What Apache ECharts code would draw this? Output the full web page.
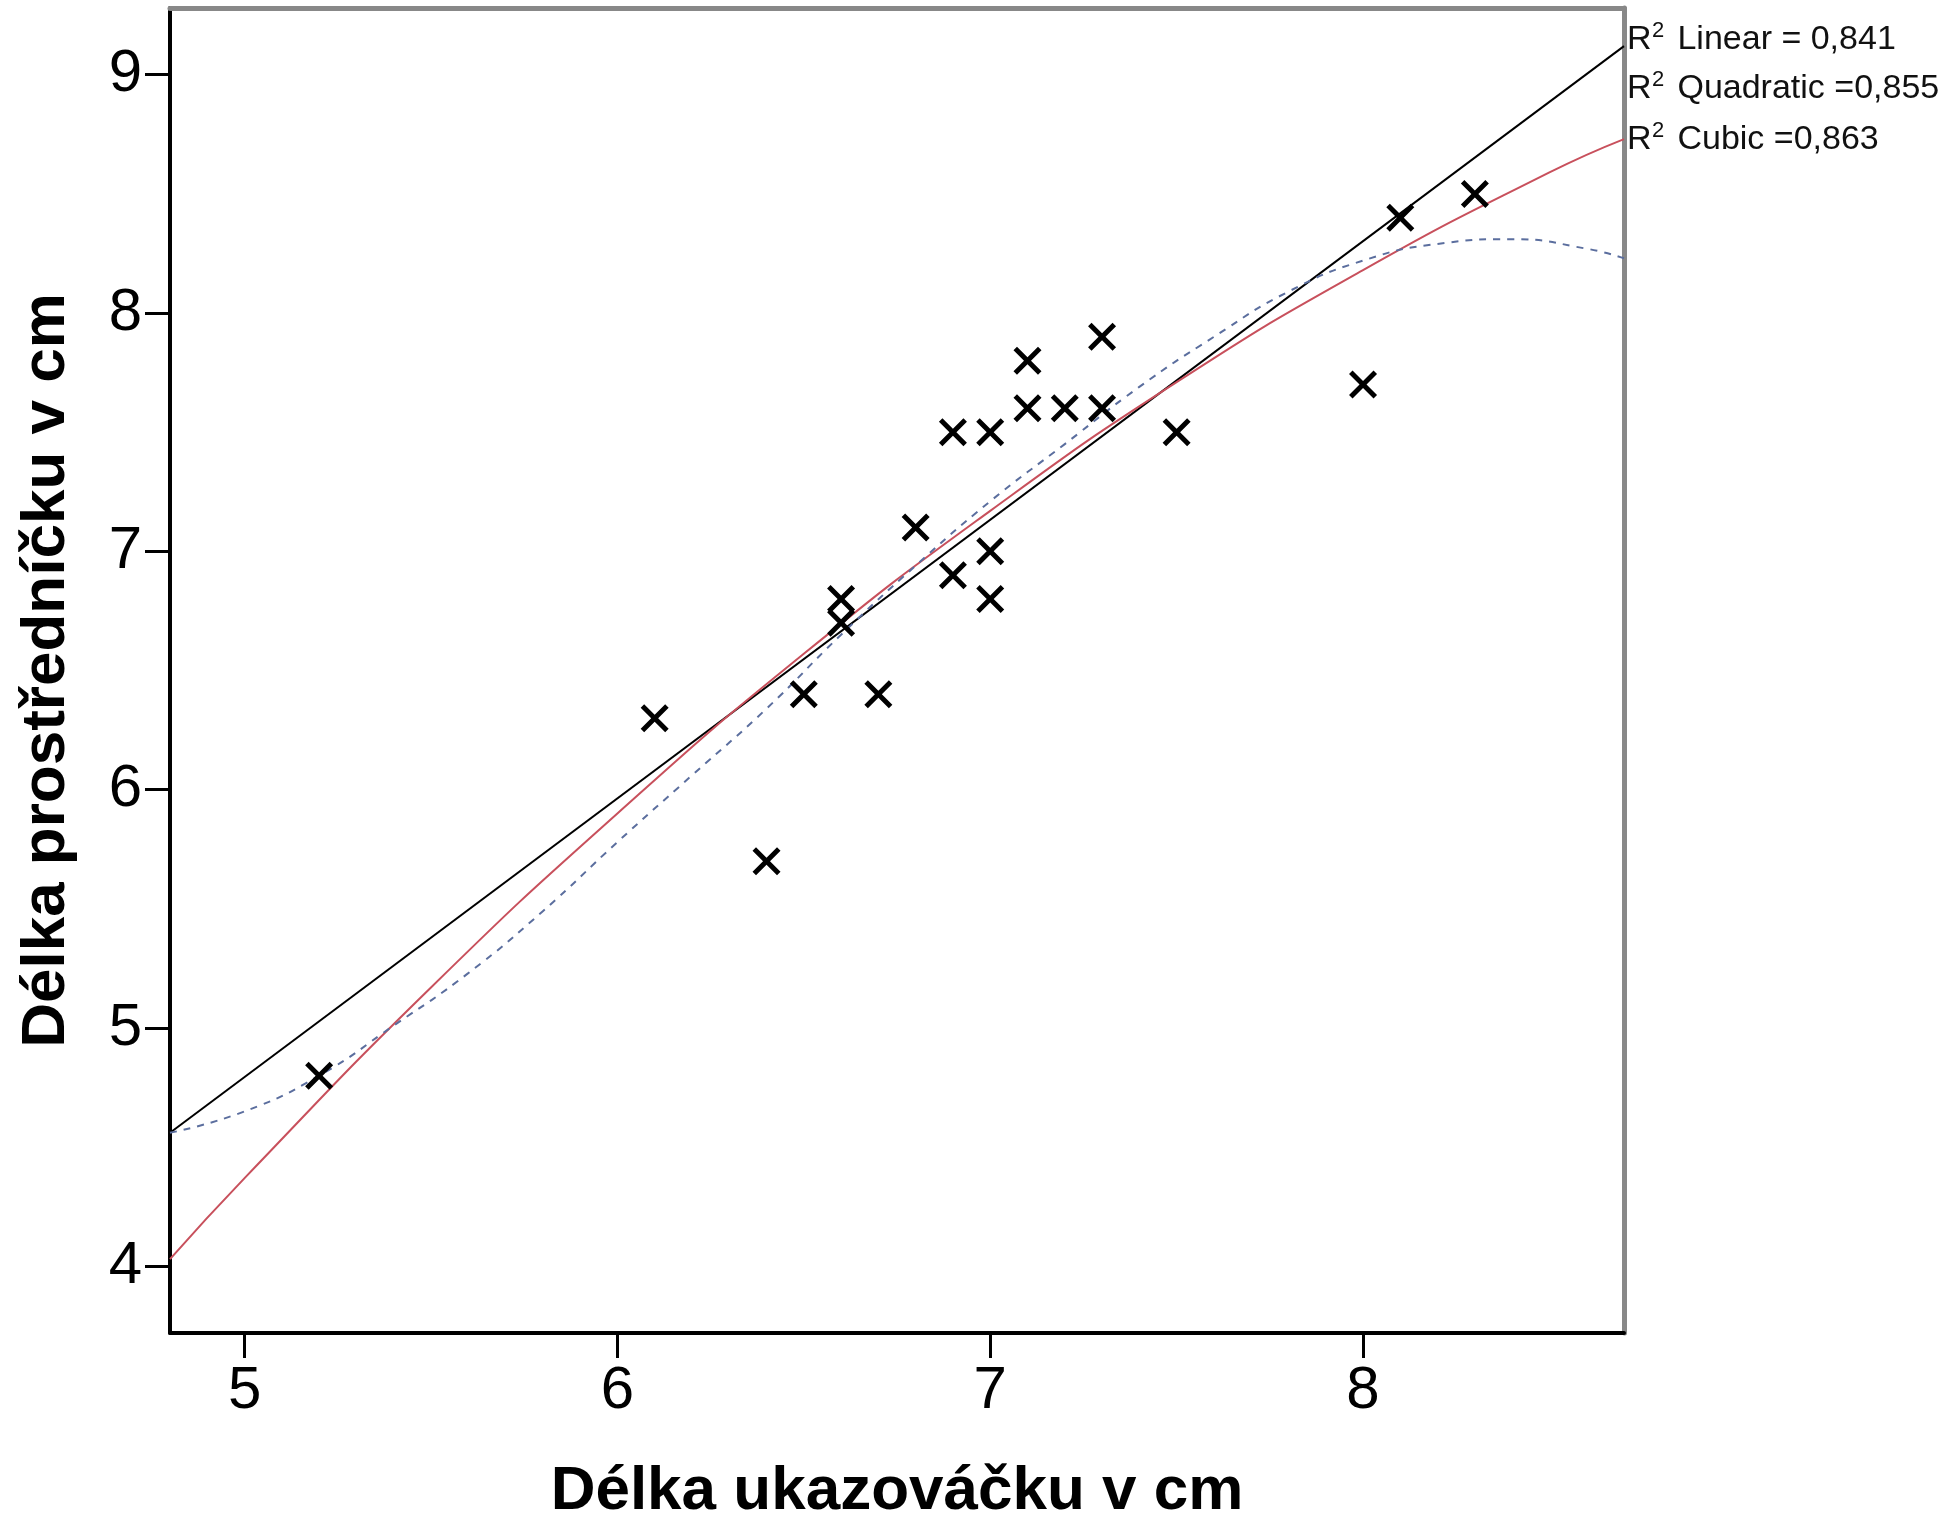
<!DOCTYPE html>
<html>
<head>
<meta charset="utf-8">
<script src="https://cdn.jsdelivr.net/npm/echarts@6/dist/echarts.min.js"></script>
<style>
html,body{margin:0;padding:0;background:#fff;}
#chart{width:1954px;height:1534px;}
</style>
</head>
<body>
<div id="chart"></div>
<script>
// Observed data (x = index finger length, y = middle finger length)
const indexFinger  = [5.2, 6.1, 6.4, 6.5, 6.6, 6.6, 6.7, 6.8, 6.9, 6.9, 7.0, 7.0, 7.0, 7.1, 7.1, 7.2, 7.3, 7.3, 7.5, 8.0, 8.1, 8.3];
const middleFinger = [4.8, 6.3, 5.7, 6.4, 6.8, 6.7, 6.4, 7.1, 7.5, 6.9, 7.5, 7.0, 6.8, 7.8, 7.6, 7.6, 7.9, 7.6, 7.5, 7.7, 8.4, 8.5];

// Fit lines
const linearX = [4.8, 8.7];
const linearY = [4.56, 9.12];
const quadX = [4.8, 5.0, 5.5, 6.0, 6.5, 7.0, 7.5, 8.0, 8.5, 8.7];
const quadY = [4.03, 4.37, 5.17, 5.90, 6.57, 7.17, 7.71, 8.18, 8.59, 8.73];
const cubicX = [4.8, 5.0, 5.2, 5.4, 5.6, 5.8, 6.0, 6.2, 6.4, 6.6, 6.8, 7.0, 7.2, 7.4, 7.6, 7.8, 8.0, 8.2, 8.4, 8.6, 8.7];
const cubicY = [4.56, 4.65, 4.80, 5.01, 5.23, 5.49, 5.78, 6.06, 6.34, 6.65, 6.94, 7.21, 7.45, 7.69, 7.90, 8.09, 8.22, 8.29, 8.31, 8.27, 8.23];

// Tick labels
const xTicks = [5, 6, 7, 8];
const yTicks = [4, 5, 6, 7, 8, 9];

// Legend texts
const fitLabels = [' Linear = 0,841', ' Quadratic =0,855', ' Cubic =0,863'];

const xTitle = 'Délka ukazováčku v cm';
const yTitle = 'Délka prostředníčku v cm';

const FONT = '"Liberation Sans", Arial, sans-serif';
const zip = (a, b) => a.map((v, i) => [v, b[i]]);

const chart = echarts.init(document.getElementById('chart'), null, {renderer: 'canvas'});

const xMark = 'path://M0 3.5L3.5 0L14 10.5L24.5 0L28 3.5L17.5 14L28 24.5L24.5 28L14 17.5L3.5 28L0 24.5L10.5 14Z';

const lineTops = [23, 72, 123];
const legendGraphics = [];
fitLabels.forEach((t, i) => {
  const top = lineTops[i];
  legendGraphics.push({
    type: 'text', left: 1627, top: top, z: 100,
    style: {text: 'R', fontFamily: FONT, fontSize: 34, fill: '#111'}
  });
  legendGraphics.push({
    type: 'text', left: 1652, top: top - 3, z: 100,
    style: {text: '2', fontFamily: FONT, fontSize: 22, fill: '#111'}
  });
  legendGraphics.push({
    type: 'text', left: 1668, top: top, z: 100,
    style: {text: t, fontFamily: FONT, fontSize: 34, fill: '#111'}
  });
});

const option = {
  backgroundColor: '#fff',
  animation: false,
  grid: {left: 170, right: 330, top: 8, bottom: 201, containLabel: false},
  xAxis: [{
    type: 'value', min: 4.8, max: 8.7, position: 'bottom',
    name: xTitle, nameLocation: 'middle', nameGap: 128,
    nameTextStyle: {fontFamily: FONT, fontSize: 62, fontWeight: 'bold', color: '#000'},
    axisLine: {show: true, onZero: false, lineStyle: {color: '#000', width: 4}},
    axisTick: {show: true, length: 25, lineStyle: {color: '#000', width: 3}, customValues: xTicks},
    axisLabel: {show: true, margin: 28, fontFamily: FONT, fontSize: 60, color: '#000', customValues: xTicks},
    splitLine: {show: false}
  }, {
    type: 'value', min: 4.8, max: 8.7, position: 'top',
    axisLine: {show: true, onZero: false, lineStyle: {color: '#888', width: 5}},
    axisTick: {show: false}, axisLabel: {show: false}, splitLine: {show: false}
  }],
  yAxis: [{
    type: 'value', min: 3.72, max: 9.28, position: 'left',
    name: yTitle, nameLocation: 'middle', nameGap: 92, nameRotate: 90,
    nameTextStyle: {fontFamily: FONT, fontSize: 62, fontWeight: 'bold', color: '#000'},
    axisLine: {show: true, onZero: false, lineStyle: {color: '#000', width: 4}},
    axisTick: {show: true, length: 25, lineStyle: {color: '#000', width: 3}, customValues: yTicks},
    axisLabel: {show: true, margin: 28, fontFamily: FONT, fontSize: 60, color: '#000', customValues: yTicks},
    splitLine: {show: false}
  }, {
    type: 'value', min: 3.72, max: 9.28, position: 'right',
    axisLine: {show: true, onZero: false, lineStyle: {color: '#888', width: 5}},
    axisTick: {show: false}, axisLabel: {show: false}, splitLine: {show: false}
  }],
  series: [
    {
      name: 'Linear', type: 'line', xAxisIndex: 0, yAxisIndex: 0,
      data: zip(linearX, linearY), showSymbol: false, symbol: 'none', clip: true,
      lineStyle: {color: '#000', width: 2}, z: 3
    },
    {
      name: 'Quadratic', type: 'line', xAxisIndex: 0, yAxisIndex: 0,
      data: zip(quadX, quadY), showSymbol: false, symbol: 'none', smooth: true, clip: true,
      lineStyle: {color: '#c8505c', width: 2}, z: 3
    },
    {
      name: 'Cubic', type: 'line', xAxisIndex: 0, yAxisIndex: 0,
      data: zip(cubicX, cubicY), showSymbol: false, symbol: 'none', smooth: true, clip: true,
      lineStyle: {color: '#5b6e9e', width: 2, type: [7, 7]}, z: 3
    },
    {
      name: 'Data', type: 'scatter', xAxisIndex: 0, yAxisIndex: 0,
      data: zip(indexFinger, middleFinger),
      symbol: xMark, symbolSize: 28,
      itemStyle: {color: '#000', opacity: 1}, z: 5
    }
  ],
  graphic: legendGraphics
};

chart.setOption(option);
</script>
</body>
</html>
